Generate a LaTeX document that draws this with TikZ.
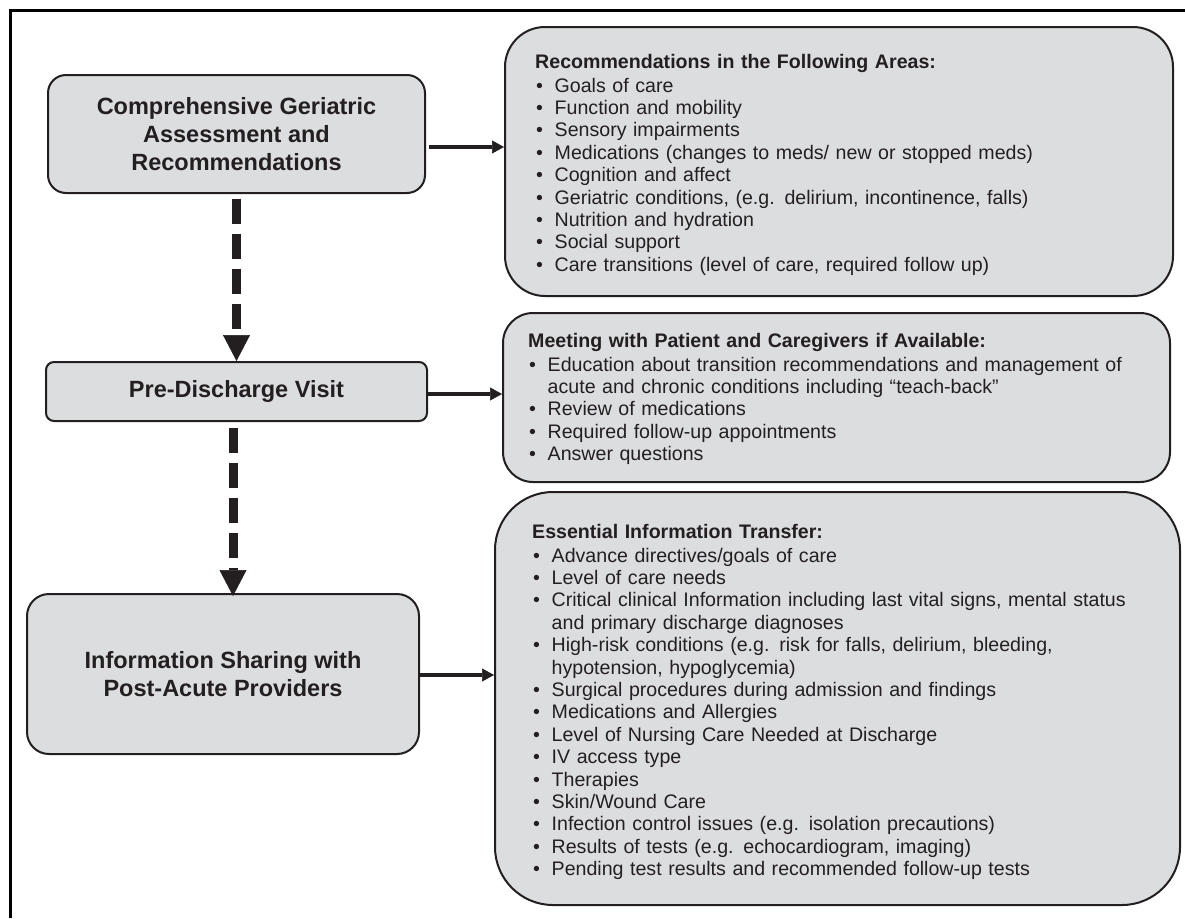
\documentclass[tikz,border=0pt]{standalone}
\usepackage{fontspec}
\setmainfont{Liberation Sans}
\usepackage{xcolor}
\usetikzlibrary{arrows.meta,calc,positioning}
\definecolor{boxgray}{RGB}{220,221,223}
\definecolor{inkgray}{RGB}{35,31,32}
\newcommand{\bitem}{\par\hangindent=19.5pt\hangafter=1\noindent\makebox[19.5pt][l]{\hspace{1pt}\textbullet}}
\tikzset{stepbox/.style={draw=inkgray,line width=2pt,fill=boxgray,text=inkgray,align=center,
                         font=\fontsize{23.5}{27.6}\selectfont\bfseries},
         listbox/.style={draw=inkgray,line width=2pt,fill=boxgray},
         listtext/.style={anchor=base west,inner sep=0pt,text width=640pt,align=left,text=inkgray,
                          font=\fontsize{19.6}{22.4}\selectfont},
         dasharrow/.style={line width=9pt,inkgray,dash pattern=on 25pt off 10pt,
                           -{Triangle[length=26pt,width=27pt,line width=0.5pt]}},
         sidearrow/.style={line width=4pt,inkgray,-{Triangle[length=12pt,width=13pt,line width=0.5pt]}}}

\begin{document}
\begin{tikzpicture}[x=1pt,y=-1pt]
            \useasboundingbox (0,0) rectangle (1185,918);
            \draw[line width=3pt] (10,918) -- (10,10) -- (1185,10);
            % left column
            \node[stepbox,rounded corners=18pt,minimum width=377pt,minimum height=118pt] (cga) at (236.5,134)
                {Comprehensive Geriatric\\Assessment and\\Recommendations};
            \node[stepbox,rounded corners=8pt,minimum width=381pt,minimum height=59pt] (visit) at (236.5,391.5)
                {Pre-Discharge Visit};
            \node[stepbox,rounded corners=22pt,minimum width=392pt,minimum height=160pt] (sharing) at (223,674)
                {Information Sharing with\\Post-Acute Providers};
            % right column
            \node[listbox,rounded corners=40pt,minimum width=668pt,minimum height=269pt] (recbox) at (839,161.5) {};
            \node[listbox,rounded corners=30pt,minimum width=667pt,minimum height=169pt] (meetbox) at (836.5,397.5) {};
            \node[listbox,rounded corners=58pt,minimum width=685pt,minimum height=413pt] (infobox) at (837.5,698.5) {};
            \node[listtext] (rectext) at (535,68) {\textbf{Recommendations in the Following Areas:}\par\vspace{1.6pt}
                \bitem Goals of care
                \bitem Function and mobility
                \bitem Sensory impairments
                \bitem Medications (changes to meds/ new or stopped meds)
                \bitem Cognition and affect
                \bitem Geriatric conditions, (e.g. delirium, incontinence, falls)
                \bitem Nutrition and hydration
                \bitem Social support
                \bitem Care transitions (level of care, required follow up)};
            \node[listtext] (meettext) at (528,347) {\textbf{Meeting with Patient and Caregivers if Available:}\par\vspace{1.6pt}
                \bitem Education about transition recommendations and management of\newline acute and chronic conditions including “teach-back”
                \bitem Review of medications
                \bitem Required follow-up appointments
                \bitem Answer questions};
            \node[listtext] (infotext) at (532,538) {\textbf{Essential Information Transfer:}\par\vspace{1.6pt}
                \bitem Advance directives/goals of care
                \bitem Level of care needs
                \bitem Critical clinical Information including last vital signs, mental status\newline and primary discharge diagnoses
                \bitem High-risk conditions (e.g. risk for falls, delirium, bleeding,\newline hypotension, hypoglycemia)
                \bitem Surgical procedures during admission and findings
                \bitem Medications and Allergies
                \bitem Level of Nursing Care Needed at Discharge
                \bitem IV access type
                \bitem Therapies
                \bitem Skin/Wound Care
                \bitem Infection control issues (e.g. isolation precautions)
                \bitem Results of tests (e.g. echocardiogram, imaging)
                \bitem Pending test results and recommended follow-up tests};
            % arrows
            \draw[dasharrow] ([yshift=-4.5pt]cga.south) -- (visit.north);
            \draw[dasharrow] ([xshift=-3.5pt,yshift=-6pt]visit.south) -- ([xshift=-3.5pt,yshift=-3pt]visit.south |- sharing.north);
            \draw[sidearrow,shorten <=3pt] ([yshift=-13pt]cga.east) -- ([yshift=-13pt]cga.east -| recbox.west);
            \draw[sidearrow] ([yshift=-2.5pt]visit.east) -- ([yshift=-2.5pt]visit.east -| meetbox.west);
            \draw[sidearrow] ([yshift=-1pt]sharing.east) -- ([yshift=-1pt]sharing.east -| infobox.west);
\end{tikzpicture}
\end{document}
